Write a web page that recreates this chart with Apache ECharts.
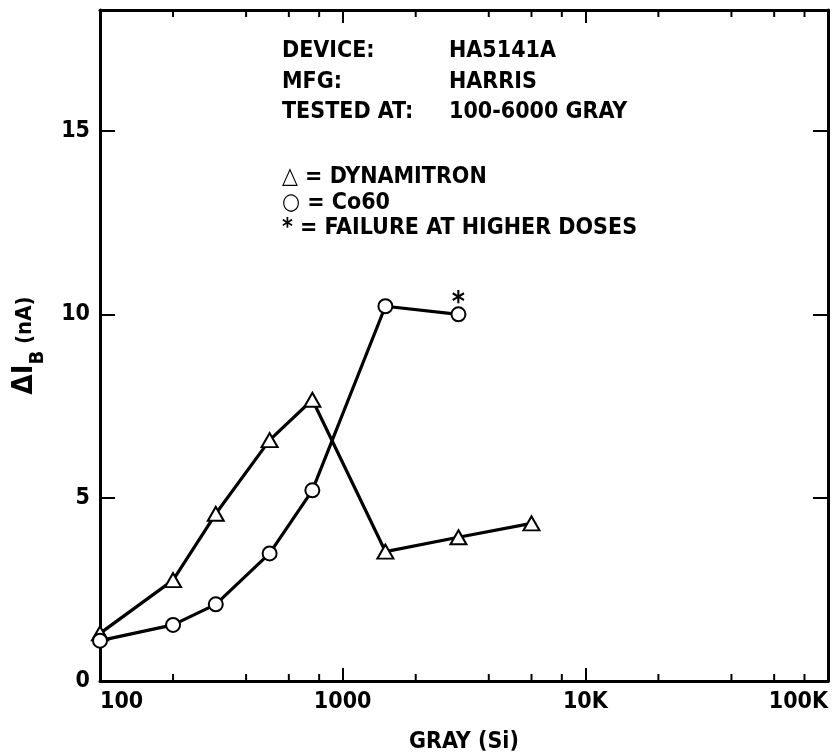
<!DOCTYPE html>
<html>
<head>
<meta charset="utf-8">
<script src="https://cdn.jsdelivr.net/npm/echarts@6/dist/echarts.min.js"></script>
<style>
html,body{margin:0;padding:0;background:#fff;}
#chart{width:839px;height:754px;}
</style>
</head>
<body>
<div id="chart"></div>
<script>
// ---- data ----
const doseDynamitron = [100, 200, 300, 500, 750, 1500, 3000, 6000];
const dynamitron     = [1.3, 2.75, 4.56, 6.57, 7.67, 3.53, 3.92, 4.3];
const doseCo60       = [100, 200, 300, 500, 750, 1500, 3000];
const co60           = [1.1, 1.53, 2.09, 3.48, 5.2, 10.22, 10.0];
const failureIndex   = 6; // Co60 point marked with *
const xMajorTicks    = [100, 1000, 10000, 100000];
const xTickLabels    = ['100', '1000', '10K', '100K'];
const xMinorTicks    = [200, 400, 600, 800, 2000, 4000, 6000, 8000, 20000, 40000, 60000, 80000];
const yTicks         = [0, 5, 10, 15];
const xMin = 100, xMax = 100000, yMin = 0, yMax = 18.3;
const headerLabels = ['DEVICE:', 'MFG:', 'TESTED AT:'];
const headerValues = ['HA5141A', 'HARRIS', '100-6000 GRAY'];
const legendLines  = ['\u25B3 = DYNAMITRON', '\u25CB = Co60', '* = FAILURE AT HIGHER DOSES'];

const FONT = "'Liberation Sans Narrow', 'DejaVu Sans Condensed', 'Arial Narrow', sans-serif";
const chart = echarts.init(document.getElementById('chart'), null, {renderer: 'canvas'});

const triData = doseDynamitron.map((d, i) => [d, dynamitron[i]]);
const circData = doseCo60.map((d, i) => {
  const item = {value: [d, co60[i]]};
  if (i === failureIndex) {
    item.label = {show: true, formatter: '*', position: 'top', distance: 0, offset: [0, 11],
      fontFamily: FONT, fontSize: 28, fontWeight: 'bold', color: '#000'};
  }
  return item;
});

const axisCommon = {
  axisLine: {show: true, onZero: false, lineStyle: {color: '#000', width: 3}},
  splitLine: {show: false}
};

const graphics = [];
headerLabels.forEach((t, i) => {
  graphics.push({type: 'text', left: 282, top: 40 + i * 30.5,
    style: {text: t, font: `bold 23px ${FONT}`, fill: '#000'}});
  graphics.push({type: 'text', left: 449, top: 40 + i * 30.5,
    style: {text: headerValues[i], font: `bold 23px ${FONT}`, fill: '#000'}});
});
legendLines.forEach((t, i) => {
  graphics.push({type: 'text', left: 282, top: 166 + i * 25.5,
    style: {text: t, font: `bold 23px ${FONT}`, fill: '#000'}});
});

const option = {
  backgroundColor: '#fff',
  animation: false,
  grid: {left: 100, right: 11, top: 10, bottom: 73, containLabel: false, outerBoundsMode: 'none'},
  xAxis: [
    Object.assign({}, axisCommon, {
      type: 'log', logBase: 10, min: xMin, max: xMax, position: 'bottom',
      axisTick: {show: true, inside: true, length: 13, lineStyle: {color: '#000', width: 2}},
      axisLabel: {
        show: true, margin: 10, color: '#000', fontFamily: FONT, fontSize: 23, fontWeight: 'bold',
        alignMinLabel: 'left', alignMaxLabel: 'right',
        formatter: v => { const k = xMajorTicks.indexOf(Math.round(v)); return k >= 0 ? xTickLabels[k] : ''; }
      },
      name: 'GRAY (Si)', nameLocation: 'middle', nameGap: 50,
      nameTextStyle: {color: '#000', fontFamily: FONT, fontSize: 23, fontWeight: 'bold'}
    }),
    Object.assign({}, axisCommon, {
      type: 'log', logBase: 10, min: xMin, max: xMax, position: 'top',
      axisTick: {show: true, inside: true, length: 13, lineStyle: {color: '#000', width: 2}},
      axisLabel: {show: false}
    })
  ],
  yAxis: [
    Object.assign({}, axisCommon, {
      type: 'value', min: yMin, max: yMax, interval: 5, position: 'left',
      axisTick: {show: true, inside: true, length: 15, lineStyle: {color: '#000', width: 2}},
      axisLabel: {show: true, margin: 10, color: '#000', fontFamily: FONT, fontSize: 23, fontWeight: 'bold',
        showMaxLabel: false,
        formatter: v => yTicks.indexOf(v) >= 0 ? String(v) : ''},
      name: '{a|\u0394I}{b|B}{c| (nA)}', nameLocation: 'middle', nameRotate: 90, nameGap: 52,
      nameTextStyle: {
        color: '#000',
        rich: {
          a: {fontFamily: FONT, fontSize: 29, fontWeight: 'bold', verticalAlign: 'top', color: '#000'},
          b: {fontFamily: FONT, fontSize: 20, fontWeight: 'bold', verticalAlign: 'bottom', lineHeight: 38, color: '#000'},
          c: {fontFamily: FONT, fontSize: 22, fontWeight: 'bold', verticalAlign: 'top', padding: [4, 0, 0, 0], color: '#000'}
        }
      }
    }),
    Object.assign({}, axisCommon, {
      type: 'value', min: yMin, max: yMax, interval: 5, position: 'right',
      axisTick: {show: true, inside: true, length: 15, lineStyle: {color: '#000', width: 2}},
      axisLabel: {show: false}
    })
  ],
  graphic: graphics,
  series: [
    {
      name: 'DYNAMITRON', type: 'line', xAxisIndex: 0, yAxisIndex: 0,
      data: triData, symbol: 'triangle', symbolSize: [16, 14],
      lineStyle: {color: '#000', width: 3.2},
      itemStyle: {color: '#fff', borderColor: '#000', borderWidth: 2},
      z: 3
    },
    {
      name: 'Co60', type: 'line', xAxisIndex: 0, yAxisIndex: 0,
      data: circData, symbol: 'circle', symbolSize: 14,
      lineStyle: {color: '#000', width: 3.2},
      itemStyle: {color: '#fff', borderColor: '#000', borderWidth: 2},
      z: 3
    },
    {
      name: 'minorTicks', type: 'custom', xAxisIndex: 0, yAxisIndex: 0,
      data: xMinorTicks.map(v => [v]), clip: false, silent: true,
      encode: {x: 0},
      renderItem: function (params, api) {
        const v = api.value(0);
        const b = api.coord([v, yMin]);
        const t = api.coord([v, yMax]);
        return {type: 'group', children: [
          {type: 'line', shape: {x1: b[0], y1: b[1], x2: b[0], y2: b[1] - 7}, style: {stroke: '#000', lineWidth: 2}},
          {type: 'line', shape: {x1: t[0], y1: t[1], x2: t[0], y2: t[1] + 7}, style: {stroke: '#000', lineWidth: 2}}
        ]};
      }
    }
  ]
};
chart.setOption(option);
</script>
</body>
</html>
